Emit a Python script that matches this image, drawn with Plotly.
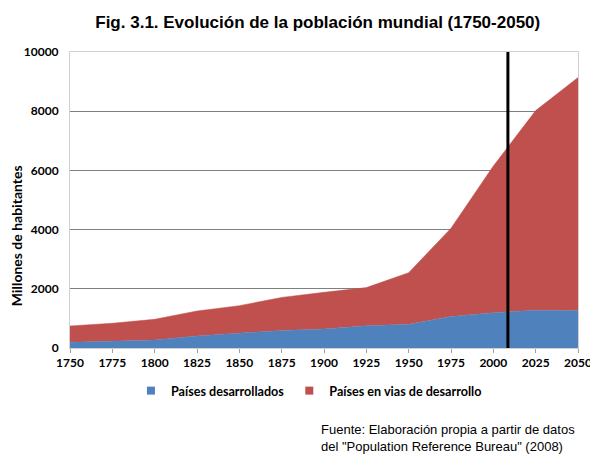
import plotly.graph_objects as go

años = [1750, 1775, 1800, 1825, 1850, 1875, 1900, 1925, 1950, 1975, 2000, 2025, 2050]
desarrollados = [195, 230, 270, 405, 495, 595, 640, 755, 800, 1060, 1195, 1275, 1265]
en_desarrollo = [550, 605, 700, 845, 935, 1115, 1240, 1285, 1745, 2985, 4955, 6745, 7870]
año_actual = 2008.6
marcas_y = [0, 2000, 4000, 6000, 8000, 10000]
etiquetas_y = ['0', '2000', '4000', '6000', '8000', '10000']

azul = '#4F81BD'
rojo = '#C0504D'

fig = go.Figure()

fig.add_trace(go.Scatter(x=años, y=desarrollados, name='Países desarrollados',
                         stackgroup='uno', mode='lines', line=dict(color=azul, width=0.5),
                         fillcolor=azul, showlegend=False))
fig.add_trace(go.Scatter(x=años, y=en_desarrollo, name='Países en vias de desarrollo',
                         stackgroup='uno', mode='lines', line=dict(color=rojo, width=0.5),
                         fillcolor=rojo, showlegend=False))

# entradas de leyenda con cuadrado pequeño
for nombre, color in [('Países desarrollados', azul), ('Países en vias de desarrollo', rojo)]:
    fig.add_trace(go.Scatter(x=[None], y=[None], mode='markers', name=nombre,
                             marker=dict(symbol='square', size=8, color=color)))

fig.add_shape(type='line', x0=año_actual, x1=año_actual, y0=0, y1=1, yref='paper',
              line=dict(color='black', width=3))

# la página tiene 8 px de margen, por eso la figura es algo más pequeña
fig.update_layout(
    width=590, height=449,
    margin=dict(l=62, r=20, t=44, b=109),
    paper_bgcolor='white', plot_bgcolor='white',
    title=dict(text='Fig. 3.1. Evolución de la población mundial (1750-2050)',
               x=0.525, xanchor='center', y=0.969, yanchor='middle',
               font=dict(family='Liberation Sans', size=17, color='black', weight='bold')),
    legend=dict(orientation='h', x=0.12, xanchor='left', y=-0.145, yanchor='middle',
                font=dict(family='Lato', size=12.6, color='black', weight='bold'),
                itemwidth=30, traceorder='normal'),
    font=dict(family='Lato', color='black'),
)

fig.update_xaxes(range=[1750, 2050], tickvals=años, ticks='outside', ticklen=4,
                 tickcolor='#A0A0A0', showgrid=False, zeroline=False, automargin=False,
                 showline=True, linecolor='#D0D0D0', mirror=True,
                 tickfont=dict(family='Lato', size=12, color='black', weight='bold'))
fig.update_yaxes(range=[0, 10000], tickvals=marcas_y, ticktext=etiquetas_y,
                 showgrid=True, gridcolor='#7F7F7F', automargin=False,
                 gridwidth=1, zeroline=False, showline=True, linecolor='#D0D0D0', mirror=True,
                 ticks='', ticklabelstandoff=8,
                 tickfont=dict(family='Lato', size=12, color='black', weight='bold'))

fig.add_annotation(text='Millones de habitantes', textangle=-90, xref='paper', yref='paper',
                   x=-0.106, y=0.378, xanchor='center', yanchor='middle', showarrow=False,
                   font=dict(family='Lato', size=14, color='black', weight='bold'))

fig.add_annotation(text='Fuente: Elaboración propia a partir de datos<br>del "Population Reference Bureau" (2008)',
                   xref='paper', yref='paper', x=0.49, y=-0.243, xanchor='left', yanchor='top',
                   align='left', showarrow=False,
                   font=dict(family='Liberation Sans', size=13, color='black'))

fig.write_html('out.html')
